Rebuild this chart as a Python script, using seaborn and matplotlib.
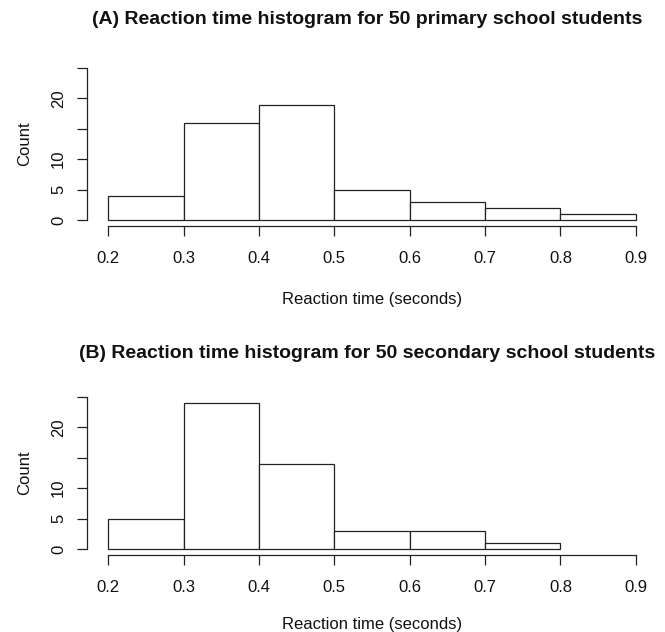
import numpy as np
import matplotlib
matplotlib.use("Agg")
import matplotlib.pyplot as plt
import seaborn as sns

# bin edges and counts
primary_edges = [0.2, 0.3, 0.4, 0.5, 0.6, 0.7, 0.8, 0.9]
primary_counts = [4, 16, 19, 5, 3, 2, 1]
secondary_edges = [0.2, 0.3, 0.4, 0.5, 0.6, 0.7, 0.8]
secondary_counts = [5, 24, 14, 3, 3, 1]

titles = ["(A) Reaction time histogram for 50 primary school students",
          "(B) Reaction time histogram for 50 secondary school students"]
x_ticks = [0.2, 0.3, 0.4, 0.5, 0.6, 0.7, 0.8, 0.9]
y_ticks = [0, 5, 10, 15, 20, 25]
y_ticklabels = ["0", "5", "10", "", "20", ""]

sns.set_theme(style="white")
plt.rcParams['font.family'] = ['Liberation Sans', 'DejaVu Sans']

W, H = 665, 632
fig = plt.figure(figsize=(W / 100, H / 100), dpi=100)

# plot regions in pixels: (left, right, top, bottom)
regions = [(87, 657, 62, 226), (87, 657, 391, 555)]
title_y = [20, 353]
xlabel_y = [299, 624]

panels = [(primary_edges, primary_counts), (secondary_edges, secondary_counts)]

for i, (edges, counts) in enumerate(panels):
    l, r, t, b = regions[i]
    ax = fig.add_axes([l / W, 1 - b / H, (r - l) / W, (b - t) / H])
    centers = [(a + c) / 2 for a, c in zip(edges[:-1], edges[1:])]
    sns.histplot(x=centers, weights=counts, bins=edges, ax=ax,
                 color="white", edgecolor="#222222", linewidth=0.9, alpha=1)
    ax.set_xlim(0.172, 0.928)
    ax.set_ylim(-1, 26)
    for s in ["top", "right"]:
        ax.spines[s].set_visible(False)
    ax.spines["left"].set_bounds(0, 25)
    ax.spines["bottom"].set_bounds(0.2, 0.9)
    for s in ["left", "bottom"]:
        ax.spines[s].set_color("#222222")
        ax.spines[s].set_linewidth(0.9)
    ax.set_xticks(x_ticks)
    ax.set_xticklabels([f"{v:.1f}" for v in x_ticks])
    ax.set_yticks(y_ticks)
    ax.set_yticklabels(y_ticklabels, rotation=90, va="center")
    ax.tick_params(axis="both", direction="out", length=7, width=0.9,
                   color="#222222", labelsize=12, labelcolor="#111111",
                   left=True, bottom=True)
    ax.tick_params(axis="x", pad=11)
    ax.tick_params(axis="y", pad=8)
    ax.set_xlabel("")
    ax.set_ylabel("Count", fontsize=12, color="#111111", labelpad=14)
    fig.text(372 / W, 1 - xlabel_y[i] / H,
             "Reaction time (seconds)", ha="center", va="center",
             fontsize=12, color="#111111")
    fig.text(367 / W, 1 - title_y[i] / H, titles[i], ha="center",
             va="center", fontsize=14, fontweight="bold", color="#111111")

fig.savefig("out.png", dpi=100, facecolor="white")
